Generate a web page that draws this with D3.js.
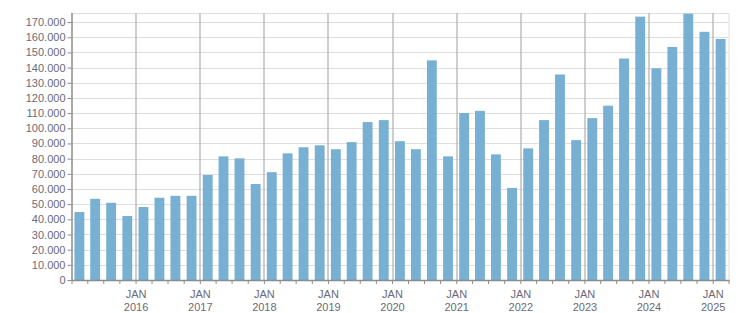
<!DOCTYPE html>
<html>
<head>
<meta charset="utf-8">
<script src="https://cdn.jsdelivr.net/npm/d3@7"></script>
<style>
  body { margin: 0; background: #fff; }
  svg { display: block; font-family: "Liberation Sans", Arial, sans-serif; }
  .axis text { fill: #6a6a78; font-size: 11px; }
  .axis path, .axis line { stroke: #8c8c8c; }
</style>
</head>
<body>
<svg id="chart" width="751" height="313"></svg>
<script>
var quarters = [
  '2015-01','2015-04','2015-07','2015-10',
  '2016-01','2016-04','2016-07','2016-10',
  '2017-01','2017-04','2017-07','2017-10',
  '2018-01','2018-04','2018-07','2018-10',
  '2019-01','2019-04','2019-07','2019-10',
  '2020-01','2020-04','2020-07','2020-10',
  '2021-01','2021-04','2021-07','2021-10',
  '2022-01','2022-04','2022-07','2022-10',
  '2023-01','2023-04','2023-07','2023-10',
  '2024-01','2024-04','2024-07','2024-10',
  '2025-01'
];
var values = [
  44800, 53500, 50900, 42200,
  48100, 54200, 55500, 55500,
  69200, 81500, 80200, 63300,
  71100, 83500, 87500, 88800,
  86200, 90900, 104100, 105400,
  91500, 86200, 144800, 81500,
  110100, 111500, 82800, 60700,
  86800, 105400, 135500, 92200,
  106700, 114900, 146000, 173600,
  139600, 153600, 175600, 163600,
  158900
];
var yTicks = d3.range(0, 170001, 10000);
var monthLabel = 'JAN';

var
  margin = {top: 13, right: 22.5, bottom: 33, left: 71.5},
  width = 751 - margin.left - margin.right,
  height = 313 - margin.top - margin.bottom,
  parse = d3.timeParse('%Y-%m'),
  data = quarters.map((q, i) => ({date: parse(q), value: values[i]})),
  locale = d3.formatLocale({decimal: ',', thousands: '.', grouping: [3], currency: ['', '']}),
  fmt = locale.format(',d')
  ;

var xScale = d3.scaleTime()
  .domain([data[0].date, d3.timeMonth.offset(data[data.length - 1].date, 3)])
  .range([0, width]);

var yScale = d3.scaleLinear()
  .domain([0, 176000])
  .range([height, 0]);

var svg = d3.select('#chart'),
  g = svg.append('g').attr('transform', 'translate(' + margin.left + ',' + margin.top + ')');

// horizontal grid
g.append('g')
  .selectAll('line')
  .data(yTicks.concat([176000]))
  .enter().append('line')
  .attr('x1', 0).attr('x2', width)
  .attr('y1', d => Math.round(yScale(d)) + 0.5)
  .attr('y2', d => Math.round(yScale(d)) + 0.5)
  .style('stroke', '#dedede');

// right border
g.append('line')
  .attr('x1', width + 0.5).attr('x2', width + 0.5)
  .attr('y1', 0).attr('y2', height)
  .style('stroke', '#dedede');

// yearly vertical grid
var janTicks = xScale.ticks(d3.timeYear.every(1)).filter(d => +d > +xScale.domain()[0]);
g.append('g')
  .selectAll('line')
  .data(janTicks)
  .enter().append('line')
  .attr('x1', d => Math.round(xScale(d)) + 0.5)
  .attr('x2', d => Math.round(xScale(d)) + 0.5)
  .attr('y1', 0).attr('y2', height)
  .style('stroke', '#b4b4b4')
  .style('stroke-width', 1.3);

// bars
var band = xScale(d3.timeMonth.offset(data[0].date, 3)) - xScale(data[0].date),
  barW = band * 0.625;

g.append('g')
  .selectAll('rect')
  .data(data)
  .enter().append('rect')
  .attr('x', d => xScale(d.date) + (band - barW) / 2)
  .attr('width', barW)
  .attr('y', d => yScale(d.value))
  .attr('height', d => height - yScale(d.value))
  .style('fill', '#77b0d2');

// y axis
var yAxis = d3.axisLeft(yScale)
  .tickValues(yTicks)
  .tickSize(4)
  .tickPadding(2)
  .tickFormat(fmt);

g.append('g')
  .attr('class', 'axis axis--y')
  .call(yAxis)
  .call(a => a.select('.domain').attr('d', 'M0.5,0V' + height).style('stroke-width', 1.5));

// x axis
var xAxis = d3.axisBottom(xScale)
  .ticks(d3.timeMonth.every(3))
  .tickSize(4)
  .tickFormat('');

var xa = g.append('g')
  .attr('class', 'axis axis--x')
  .attr('transform', 'translate(0,' + height + ')')
  .call(xAxis);
xa.select('.domain').attr('d', 'M0,0.5H' + (width + 1)).style('stroke-width', 1.5);

xa.selectAll('.jan')
  .data(janTicks)
  .enter().append('text')
  .attr('class', 'jan')
  .attr('x', d => xScale(d) + 0.5)
  .attr('text-anchor', 'middle')
  .each(function(d) {
    var t = d3.select(this);
    t.append('tspan').attr('x', xScale(d) + 0.5).attr('y', 18).text(monthLabel);
    t.append('tspan').attr('x', xScale(d) + 0.5).attr('y', 31).text(d3.timeFormat('%Y')(d));
  });
</script>
</body>
</html>
